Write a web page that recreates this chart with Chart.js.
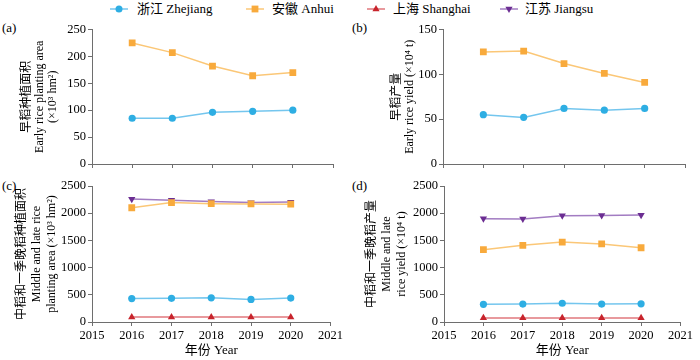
<!DOCTYPE html>
<html>
<head>
<meta charset="utf-8">
<script src="https://cdn.jsdelivr.net/npm/chart.js@4.4.0/dist/chart.umd.min.js"></script>
<style>
body{margin:0;background:#fff;}
#wrap{position:relative;width:700px;height:360px;font-family:"Liberation Serif","Noto Sans CJK SC",serif;color:#000;}
.box{position:absolute;}
.tag{position:absolute;font-size:13px;line-height:14px;}
.leg{position:absolute;top:2px;height:14px;font-size:13px;line-height:14px;white-space:nowrap;}
.leg svg{position:absolute;left:0;top:0;}
.leg span{position:absolute;top:0;}
</style>
</head>
<body>
<div id="wrap">
  <div class="leg" style="left:110px"><svg width="20" height="14"><line x1="0" y1="7" x2="18" y2="7" stroke="#74c6ee" stroke-width="1.5"/><circle cx="9" cy="7" r="3.5" fill="#2eaee3"/></svg><span style="left:27px">浙江 Zhejiang</span></div>
  <div class="leg" style="left:246px"><svg width="20" height="14"><line x1="0" y1="7" x2="18" y2="7" stroke="#fbc777" stroke-width="1.5"/><rect x="5.6" y="3.6" width="6.8" height="6.8" fill="#f8aa3c"/></svg><span style="left:26px">安徽 Anhui</span></div>
  <div class="leg" style="left:367px"><svg width="20" height="14"><line x1="0" y1="7" x2="18" y2="7" stroke="#e0777c" stroke-width="1.5"/><polygon points="9,3 12.6,9.2 5.4,9.2" fill="#c8242c"/></svg><span style="left:26px">上海 Shanghai</span></div>
  <div class="leg" style="left:500px"><svg width="20" height="14"><line x1="0" y1="7" x2="18" y2="7" stroke="#a27cc2" stroke-width="1.5"/><polygon points="9,11 12.6,4.8 5.4,4.8" fill="#6b2d92"/></svg><span style="left:25px">江苏 Jiangsu</span></div>

  <div class="tag" style="left:2px;top:21px">(a)</div>
  <div class="tag" style="left:352px;top:21px">(b)</div>
  <div class="tag" style="left:2px;top:179px">(c)</div>
  <div class="tag" style="left:352px;top:179px">(d)</div>

  <canvas class="box" id="ca" width="345" height="160" style="left:0px;top:20px"></canvas>
  <canvas class="box" id="cb" width="345" height="160" style="left:350px;top:20px"></canvas>
  <canvas class="box" id="cc" width="345" height="185" style="left:0px;top:175px"></canvas>
  <canvas class="box" id="cd" width="345" height="185" style="left:350px;top:175px"></canvas>
</div>
<script>
//DATA----------------------------------------------------------------
const years = [2016, 2017, 2018, 2019, 2020];

// (a) early rice planting area (x10^3 hm2)
const earlyAreaZJ = [85, 85, 96, 98, 100];
const earlyAreaAH = [225, 207, 182, 164, 170];

// (b) early rice yield (x10^4 t)
const earlyYieldZJ = [55, 52, 62, 60, 62];
const earlyYieldAH = [125, 126, 112, 101, 91];

// (c) middle and late rice planting area
const midAreaZJ = [430, 435, 445, 415, 440];
const midAreaAH = [2100, 2195, 2175, 2170, 2165];
const midAreaSH = [90, 90, 90, 90, 90];
const midAreaJS = [2260, 2240, 2215, 2195, 2205];

// (d) middle and late rice yield
const midYieldZJ = [325, 330, 345, 330, 335];
const midYieldAH = [1330, 1410, 1470, 1435, 1365];
const midYieldSH = [75, 75, 75, 75, 75];
const midYieldJS = [1900, 1895, 1955, 1960, 1965];
//-------------------------------------------------------------------

const FONT = '"Liberation Serif", "Noto Sans CJK SC", serif';
const AXIS = '#6e6e6e';
Chart.defaults.font.family = FONT;
Chart.defaults.color = '#000';

//series styles
const styles = {
  ZJ: { line: '#74c6ee', mark: '#2eaee3', pointStyle: 'circle', r: 3.6, rot: 0 },
  AH: { line: '#fbc777', mark: '#f8aa3c', pointStyle: 'rect', r: 4.8, rot: 0 },
  SH: { line: '#e0777c', mark: '#c8242c', pointStyle: 'triangle', r: 4.2, rot: 0 },
  JS: { line: '#a27cc2', mark: '#6b2d92', pointStyle: 'triangle', r: 4.2, rot: 180 }
};

function series(key, values) {
  const s = styles[key];
  return {
    data: values.map(function (v, i) { return { x: years[i], y: v }; }),
    borderColor: s.line,
    borderWidth: 1.5,
    backgroundColor: s.mark,
    pointBackgroundColor: s.mark,
    pointBorderColor: s.mark,
    pointBorderWidth: 0,
    pointStyle: s.pointStyle,
    pointRadius: s.r,
    pointRotation: s.rot,
    tension: 0
  };
}

function plain(v) { return String(v); }

//PANEL FUNCTION------------------------------------------------------
function panel(id, datasets, yMax, yStep, yTitle, yPad, yWidth, bottomRow, padTop, padRight) {
  const config = {
    type: 'line',
    data: { datasets: datasets },
    options: {
      responsive: false,
      animation: false,
      layout: { padding: { left: 0, top: padTop, right: padRight, bottom: 0 } },
      plugins: { legend: { display: false }, tooltip: { enabled: false } },
      scales: {
        x: {
          type: 'linear',
          min: 2015,
          max: 2021,
          ticks: {
            display: bottomRow,
            stepSize: 1,
            padding: 2,
            color: '#000',
            font: { family: FONT, size: 12.5 },
            callback: plain
          },
          grid: { drawOnChartArea: false, drawTicks: true, tickLength: 4, color: AXIS },
          border: { display: true, color: AXIS, width: 1 },
          title: {
            display: bottomRow,
            text: '年份 Year',
            color: '#000',
            font: { family: FONT, size: 13 },
            padding: { top: 0, bottom: 2 }
          },
          afterFit: function (s) { s.height = bottomRow ? 38 : 16; }
        },
        y: {
          min: 0,
          max: yMax,
          ticks: {
            stepSize: yStep,
            padding: 2,
            color: '#000',
            font: { family: FONT, size: 12.5 },
            callback: plain
          },
          grid: { drawOnChartArea: false, drawTicks: true, tickLength: 4, color: AXIS },
          border: { display: true, color: AXIS, width: 1 },
          title: {
            display: true,
            text: yTitle,
            color: '#000',
            font: { family: FONT, size: 12, lineHeight: bottomRow ? 1.25 : 1.05 },
            padding: { top: yPad, bottom: 0 }
          },
          afterFit: function (s) { s.width = yWidth; }
        }
      }
    }
  };
  return new Chart(document.getElementById(id), config);
}

const chartA = panel('ca', [series('ZJ', earlyAreaZJ), series('AH', earlyAreaAH)],
  250, 50, ['早稻种植面积', 'Early rice planting area', '(×10³ hm²)'], 21, 92, false, 8, 12);

const chartB = panel('cb', [series('ZJ', earlyYieldZJ), series('AH', earlyYieldAH)],
  150, 50, ['早稻产量', 'Early rice yield (×10⁴ t)'], 41, 93, false, 8, 10);

const chartC = panel('cc', [series('ZJ', midAreaZJ), series('AH', midAreaAH), series('SH', midAreaSH), series('JS', midAreaJS)],
  2500, 500, ['中稻和一季晚稻种植面积', 'Middle and late rice', 'planting area (×10³ hm²)'], 14.5, 92, true, 11, 12);

const chartD = panel('cd', [series('ZJ', midYieldZJ), series('AH', midYieldAH), series('SH', midYieldSH), series('JS', midYieldJS)],
  2500, 500, ['中稻和一季晚稻产量', 'Middle and late', 'rice yield (×10⁴ t)'], 14.5, 94, true, 11, 10);
</script>
</body>
</html>
